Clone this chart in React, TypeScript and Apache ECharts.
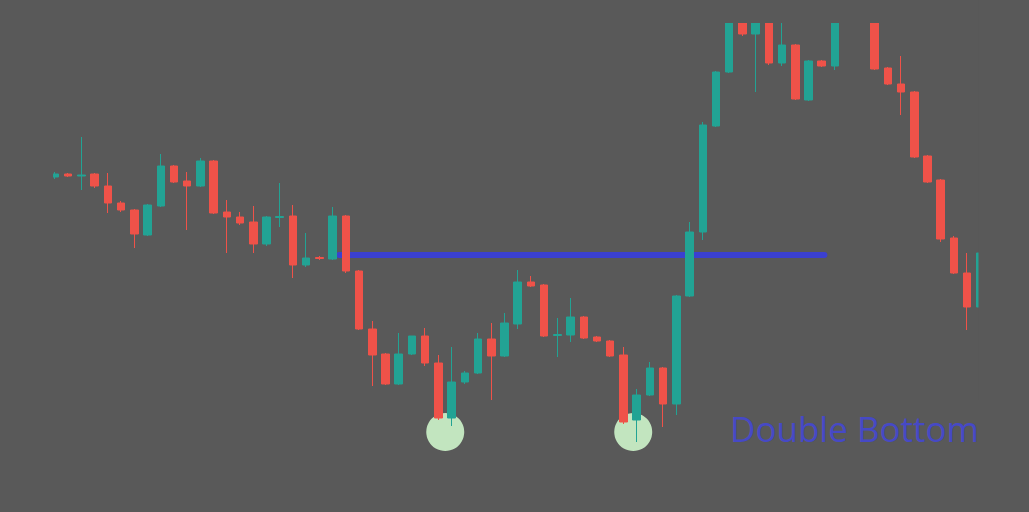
import React, { useEffect, useRef } from "react";
import * as echarts from "echarts";

// Price values (arbitrary price units), one per candle
const opens = [
  335, 338, 336, 338, 326, 309, 302, 277, 306, 346, 331, 326, 351, 300, 295, 290, 268, 294.5, 296, 247,
  254.5, 253, 296, 241, 183, 158, 128, 158, 176, 149, 94, 130, 139, 173, 156, 188, 230, 227, 176.5, 177,
  195, 175, 171, 157, 92, 117, 144, 108, 216, 280, 386, 440, 492, 478, 495, 449, 467, 412, 451, 446,
  505, 530, 500, 444, 428, 420, 356, 332, 274, 239, 205,
];
const closes = [
  338, 336, 337, 326, 309, 302, 278, 307, 346, 330, 326, 351, 299, 295, 289, 268, 295, 295.5, 247, 254,
  253.5, 296, 241, 183, 157, 128, 158, 176, 149, 94, 130, 139, 173, 156, 189, 230, 226, 176, 177.5, 195,
  174, 171, 156, 90, 117, 144, 108, 216, 280, 387, 440, 495, 478, 492, 449, 467, 413, 451, 446, 495,
  530, 510, 443, 428, 420, 355, 330, 273, 239, 205, 259,
];
const lows = [
  333, 335, 322, 324, 299, 300, 264, 276, 305, 329, 282, 325, 298, 259, 287, 259, 266, 285, 234, 245,
  252, 252, 239, 182, 126, 127, 127, 157, 146, 92, 86, 128, 138, 112, 155, 183, 225, 175, 155, 170,
  173, 170, 155, 88, 70, 116, 85, 97, 215, 272, 385, 439, 476, 420, 447, 446, 412, 411, 445, 442,
  495, 490, 442, 427, 397, 354, 329, 270, 238, 182, 204,
];
const highs = [
  340, 339, 375, 339, 339, 311, 303, 308, 358, 347, 340, 354, 352, 312, 300, 306, 296, 329, 307, 279,
  256, 305, 297, 242, 191, 159, 179, 160, 184, 157, 165, 141, 179, 189, 199, 242, 236, 228, 194, 214,
  196, 176, 172, 165, 123, 150, 145, 217, 290, 390, 441, 500, 495, 495, 498, 492, 468, 452, 452, 500,
  535, 540, 505, 445, 456, 421, 357, 333, 276, 259, 260,
];

// Annotations: the two bottoms (candle position, price) and the neckline
const bottomsX = [29.52, 43.74];
const bottomsY = [80, 80];
const necklineX = [21.5, 58.2];
const necklineY = [257, 257];
const labelText = "Double Bottom";

const BG = "#595959";

export default function App() {
  const ref = useRef<HTMLDivElement>(null);

  useEffect(() => {
    if (!ref.current) return;
    const chart = echarts.init(ref.current, null, { renderer: "svg" });
    const candles = opens.map((o, i) => [i, o, closes[i], lows[i], highs[i]]);
    chart.setOption({
      animation: false,
      backgroundColor: BG,
      grid: { left: 52, right: 51, top: 23, bottom: 0 },
      xAxis: {
        type: "value",
        min: -0.227,
        max: 69.82,
        show: false,
        splitLine: { show: false },
      },
      yAxis: {
        type: "value",
        min: 0,
        max: 489,
        show: false,
        splitLine: { show: false },
      },
      series: [
        {
          type: "scatter",
          data: bottomsX.map((x, i) => [x, bottomsY[i]]),
          symbol: "circle",
          symbolSize: 38,
          itemStyle: { color: "#c2e5bf", opacity: 1 },
          z: 1,
          silent: true,
        },
        {
          type: "line",
          data: necklineX.map((x, i) => [x, necklineY[i]]),
          symbol: "none",
          lineStyle: { color: "#3b40d0", width: 6, cap: "round" },
          z: 1,
          silent: true,
        },
        {
          type: "candlestick",
          data: candles,
          barWidth: 8,
          clip: true,
          z: 2,
          itemStyle: {
            color: "#22a394",
            color0: "#ef5249",
            borderColor: "#22a394",
            borderColor0: "#ef5249",
            borderWidth: 1,
          },
        },
      ],
      graphic: [
        // plot-area edges: hide what runs past the top, left and right of the plot
        {
          type: "rect",
          z: 100,
          silent: true,
          shape: { x: 0, y: 0, width: 1029, height: 23 },
          style: { fill: BG },
        },
        {
          type: "rect",
          z: 100,
          silent: true,
          shape: { x: 978.5, y: 0, width: 60, height: 400 },
          style: { fill: BG },
        },
        {
          type: "rect",
          z: 100,
          silent: true,
          shape: { x: 0, y: 0, width: 53, height: 512 },
          style: { fill: BG },
        },
        {
          type: "text",
          x: 730,
          y: 428,
          silent: true,
          z: 101,
          style: {
            text: labelText,
            fill: "#4649c6",
            fontSize: 35,
            fontFamily: "Open Sans",
            align: "left",
            verticalAlign: "middle",
          },
        },
      ],
    });
    return () => chart.dispose();
  }, []);

  return (
    <div
      ref={ref}
      style={{ position: "fixed", left: 0, top: 0, width: 1029, height: 512 }}
    />
  );
}
